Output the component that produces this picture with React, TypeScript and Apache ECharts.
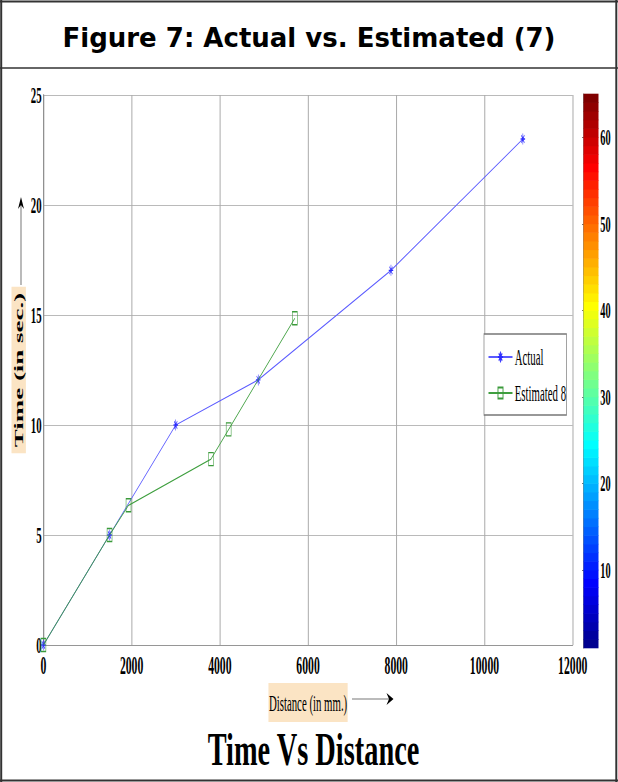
import React, { useEffect, useRef } from "react";
import * as echarts from "echarts";

// ---- data ----
const actualX = [0, 1500, 3000, 4870, 7880, 10870];
const actualY = [0, 5, 10, 12.05, 17.03, 23.0];
const estX = [0, 1500, 1930, 3800, 4200, 5700];
const estY = [0, 5, 6.35, 8.45, 9.8, 14.85];
const seriesNames = ["Actual", "Estimated 8"];
const xMin = 0, xMax = 12000, xStep = 2000;
const yMin = 0, yMax = 25, yStep = 5;
const cbMin = 1, cbMax = 65;
const cbTicks = [10, 20, 30, 40, 50, 60];
const cbLevels = Array.from({ length: 64 }, (_, i) => i);

// ---- layout helpers (page is squashed horizontally) ----
const PAGE_W = 618;
const PAGE_H = 782;
const S = 0.45;
const W = Math.round(PAGE_W / S);
const SX = PAGE_W / W;
const X = (t: number) => t / SX;

function jet(i: number): string {
  const x = (i + 1) / 64;
  const c = (v: number) => Math.max(0, Math.min(1, v));
  const r = Math.round(255 * c(1.5 - Math.abs(4 * x - 3)));
  const g = Math.round(255 * c(1.5 - Math.abs(4 * x - 2)));
  const b = Math.round(255 * c(1.5 - Math.abs(4 * x - 1)));
  return `rgb(${r},${g},${b})`;
}

const STAR = "path://M5,0L5,10M0,5L10,5M1.6,1.6L8.4,8.4M1.6,8.4L8.4,1.6";
const SERIF = "Liberation Serif";

export default function App() {
  const ref = useRef<HTMLDivElement>(null);
  useEffect(() => {
    if (!ref.current) return;
    const chart = echarts.init(ref.current, undefined, { renderer: "svg" });
    const frameColor = "#333";
    const option: any = {
      animation: false,
      backgroundColor: "#fff",
      grid: [
        { left: X(43.4), right: W - X(572.7), top: 95, bottom: PAGE_H - 645, containLabel: false },
        { left: X(583.5), width: X(15), top: 94, bottom: PAGE_H - 648, containLabel: false },
      ],
      xAxis: [
        {
          type: "value", gridIndex: 0, min: xMin, max: xMax, interval: xStep,
          name: "Distance (in mm.)", nameLocation: "middle", nameGap: 34,
          nameTextStyle: {
            fontFamily: SERIF, fontSize: 24, color: "#000",
            backgroundColor: "#fbe4c4", padding: [8, 1, 7, 1],
          },
          axisLine: { show: true, lineStyle: { color: "#888", width: 1 } },
          axisTick: { show: false },
          axisLabel: {
            formatter: (v: number) => String(v), fontFamily: SERIF, fontWeight: "bold",
            fontSize: 26, color: "#000", margin: 7,
          },
          splitLine: { show: true, lineStyle: { color: "#aaa", width: 1 / SX } },
        },
        { type: "value", gridIndex: 1, min: 0, max: 1, show: false },
      ],
      yAxis: [
        {
          type: "value", gridIndex: 0, min: yMin, max: yMax, interval: yStep,
          name: "Time (in sec.)", nameLocation: "middle", nameRotate: 90, nameGap: 34,
          nameTextStyle: {
            fontFamily: SERIF, fontWeight: "bold", fontSize: 27, color: "#000",
            backgroundColor: "#fbe4c4", padding: [3, 6, 2, 6],
          },
          axisLine: { show: true, lineStyle: { color: "#888", width: 1 / SX } },
          axisTick: { show: false },
          axisLabel: {
            fontFamily: SERIF, fontWeight: "bold", fontSize: 24, color: "#000", margin: 4,
          },
          splitLine: { show: true, lineStyle: { color: "#a0a0a0", width: 1 } },
        },
        {
          type: "value", gridIndex: 1, min: cbMin, max: cbMax, position: "right",
          axisLine: { show: true, lineStyle: { color: "#444", width: 1 } },
          axisTick: { show: true, inside: true, length: 3, customValues: cbTicks, lineStyle: { color: "#222" } },
          axisLabel: {
            customValues: cbTicks, fontFamily: SERIF, fontWeight: "bold", fontSize: 23,
            color: "#000", margin: 4,
          },
          splitLine: { show: false },
        },
      ],
      legend: {
        data: seriesNames,
        orient: "vertical",
        left: X(484),
        top: 334,
        padding: [11, 1, 10, 9],
        itemGap: 12,
        itemWidth: X(24),
        itemHeight: 14,
        backgroundColor: "#fff",
        borderColor: "#777",
        borderWidth: 1.5,
        textStyle: { fontFamily: SERIF, fontSize: 24, color: "#000" },
      },
      series: [
        {
          name: seriesNames[0], type: "line", xAxisIndex: 0, yAxisIndex: 0,
          data: actualX.map((x, i) => [x, actualY[i]]),
          color: "#4b4bff",
          symbol: STAR, symbolSize: [10, 11],
          itemStyle: { color: "#2b2bff", borderColor: "#2b2bff", borderWidth: 1.2 },
          lineStyle: { color: "#5a5aff", width: 1.2 },
          z: 3,
        },
        {
          name: seriesNames[1], type: "line", xAxisIndex: 0, yAxisIndex: 0,
          data: estX.map((x, i) => [x, estY[i]]),
          color: "#3a9a3a",
          symbol: "rect", symbolSize: [11, 13],
          itemStyle: { color: "rgba(0,0,0,0)", borderColor: "#3a9a3a", borderWidth: 1.3 },
          lineStyle: { color: "#3f9f3f", width: 1.2 },
          z: 4,
        },
        {
          type: "custom", xAxisIndex: 1, yAxisIndex: 1, silent: true,
          data: cbLevels.map((i) => [0, i]),
          renderItem: (params: any, api: any) => {
            const i = api.value(1);
            const p0 = api.coord([0, cbMin + i]);
            const p1 = api.coord([1, cbMin + i + 1]);
            return {
              type: "rect",
              shape: { x: p0[0], y: p1[1] - 0.3, width: p1[0] - p0[0], height: p0[1] - p1[1] + 0.6 },
              style: { fill: jet(i) },
            };
          },
        },
      ],
      graphic: [
        // outer frame
        { type: "line", shape: { x1: 0, y1: 1.5, x2: W, y2: 1.5 }, style: { stroke: frameColor, lineWidth: 2 } },
        { type: "line", shape: { x1: 0, y1: 780.5, x2: W, y2: 780.5 }, style: { stroke: frameColor, lineWidth: 2 } },
        { type: "line", shape: { x1: X(1.2), y1: 0, x2: X(1.2), y2: PAGE_H }, style: { stroke: frameColor, lineWidth: 2 / SX } },
        { type: "line", shape: { x1: X(616.3), y1: 0, x2: X(616.3), y2: PAGE_H }, style: { stroke: frameColor, lineWidth: 2 / SX } },
        { type: "line", shape: { x1: 0, y1: 68, x2: W, y2: 68 }, style: { stroke: frameColor, lineWidth: 1.5 } },
        // header title
        {
          type: "text", x: X(309), y: 38, scaleX: 1 / SX,
          style: {
            text: "Figure 7: Actual vs. Estimated (7)", fontFamily: "DejaVu Sans", fontWeight: "bold",
            fontSize: 26, fill: "#000", align: "center", verticalAlign: "middle",
          },
        },
        // bottom title
        {
          type: "text", x: X(313.5), y: 749, scaleX: 1.37,
          style: {
            text: "Time Vs Distance", fontFamily: SERIF, fontWeight: "bold",
            fontSize: 46, fill: "#000", align: "center", verticalAlign: "middle",
          },
        },
        // y-title arrow
        { type: "line", shape: { x1: X(21), y1: 285, x2: X(21), y2: 204 }, style: { stroke: "#777", lineWidth: 1 / SX } },
        {
          type: "polygon",
          shape: { points: [[X(21), 197], [X(24), 209], [X(21), 205], [X(18), 209]] },
          style: { fill: "#000" },
        },
        // x-title arrow
        { type: "line", shape: { x1: X(352), y1: 699, x2: X(390), y2: 699 }, style: { stroke: "#444", lineWidth: 1 } },
        {
          type: "polygon",
          shape: { points: [[X(393.5), 699], [X(386.5), 693], [X(389), 699], [X(386.5), 705]] },
          style: { fill: "#000" },
        },
      ],
    };
    chart.setOption(option);
    return () => chart.dispose();
  }, []);

  return (
    <div style={{ position: "fixed", left: 0, top: 0, width: PAGE_W, height: PAGE_H, overflow: "hidden", background: "#fff" }}>
      <div
        ref={ref}
        style={{ width: W, height: PAGE_H, transform: `scaleX(${SX})`, transformOrigin: "0 0" }}
      />
    </div>
  );
}
